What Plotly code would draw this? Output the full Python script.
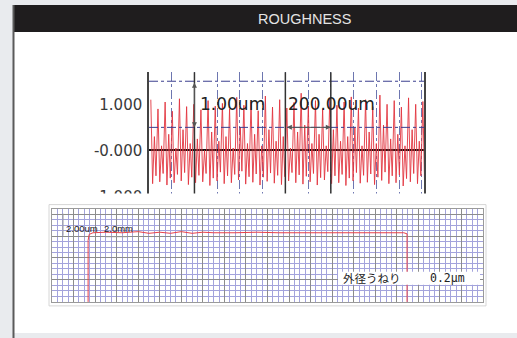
import plotly.graph_objects as go

W, H_REF = 517, 338          # reference picture size (layout positions read from it)
FIG_H = 346                  # canvas height that ends up photographed as 338 rows

# ---------------- data ----------------
# roughness profile (um) read per cycle, x in um
rough_period_um = 31.5
rough_start_um = 8.0
rough_peaks = [1.10, 0.90, 1.05, 0.85, 1.12, 0.95, 1.00, 0.88, 1.08, 0.96,
               1.02, 0.90, 1.15, 0.98, 1.05, 0.86, 1.18, 0.94, 1.10, 0.92,
               1.04, 1.24, 0.96, 1.08, 0.90, 1.12, 0.98, 1.05, 1.16, 0.92,
               1.10, 0.95, 1.20, 1.00, 1.08, 0.94, 1.14, 1.00, 1.06]
rough_troughs = [-0.72, -0.68, -0.75, -0.70, -0.66, -0.74, -0.70, -0.68, -0.76, -0.66,
                 -0.72, -0.70, -0.64, -0.73, -0.69, -0.75, -0.67, -0.71, -0.74, -0.66,
                 -0.70, -0.73, -0.68, -0.75, -0.64, -0.72, -0.70, -0.76, -0.66, -0.71,
                 -0.69, -0.74, -0.65, -0.72, -0.70, -0.77, -0.68, -0.72, -0.80]
rough_mids = [0.30, 0.10, 0.35, 0.05, 0.45, 0.15, 0.25, 0.00, 0.40, 0.20,
              0.30, 0.05, 0.50, 0.15, 0.35, 0.10, 0.45, 0.20, 0.30, 0.05,
              0.40, 0.55, 0.15, 0.35, 0.10, 0.45, 0.20, 0.30, 0.50, 0.10,
              0.40, 0.15, 0.55, 0.25, 0.35, 0.10, 0.45, 0.20, 0.30]
rough_dips = [-0.55, -0.50, -0.60, -0.52, -0.48, -0.58, -0.54, -0.50, -0.60, -0.47,
              -0.55, -0.52, -0.45, -0.57, -0.51, -0.58, -0.49, -0.54, -0.57, -0.48,
              -0.53, -0.56, -0.50, -0.59, -0.46, -0.55, -0.52, -0.60, -0.48, -0.54,
              -0.51, -0.58, -0.47, -0.55, -0.53, -0.61, -0.50, -0.55, -0.62]

rough_ytick_vals = [1, 0, -1]
rough_ytick_text = ["1.000", "-0.000", "-1.000"]
cursor_x_um = [200, 600, 800]
hline_vals = [0.5, 1.5]

# waviness trace (grid units)
wav_x = [6.7, 6.7, 6.9, 7.6, 10, 13, 16, 18, 20, 22, 24, 26, 28, 30, 34, 38, 42,
         46, 50, 54, 58, 62, 65.3, 65.9, 65.9]
wav_y = [0, 11.2, 12.3, 12.6, 12.7, 12.6, 12.8, 12.5, 12.7, 12.5, 12.8, 12.5, 12.7,
         12.6, 12.6, 12.7, 12.6, 12.6, 12.7, 12.6, 12.6, 12.7, 12.6, 12.4, 0]

title_text = "ROUGHNESS"
scale_v_text = "1.00um"
scale_h_text = "200.00um"
wav_scale_v_text = "2.00um"
wav_scale_h_text = "2.0mm"
wav_label = "外径うねり"
wav_value = "0.2μm"

# ---------------- helpers ----------------
def px(x):
    return x / W

def py(y):
    return 1 - y / H_REF

# build roughness polyline from per-cycle readings
rx, ry = [], []
for i, (pk, tr, md, dp) in enumerate(zip(rough_peaks, rough_troughs, rough_mids, rough_dips)):
    b = rough_start_um + i * rough_period_um
    rx += [b, b + 0.25 * rough_period_um, b + 0.5 * rough_period_um, b + 0.72 * rough_period_um]
    ry += [pk, tr, md, dp]

fig = go.Figure()
fig.add_trace(go.Scatter(x=rx, y=ry, mode="lines",
                         line=dict(color="#e23540", width=0.9), xaxis="x", yaxis="y",
                         hoverinfo="skip"))
fig.add_trace(go.Scatter(x=wav_x, y=wav_y, mode="lines",
                         line=dict(color="#e8404a", width=1), xaxis="x2", yaxis="y2",
                         hoverinfo="skip"))

shapes = []
# background pieces
shapes.append(dict(type="rect", xref="paper", yref="paper", x0=px(14), x1=1, y0=py(332), y1=py(32),
                   fillcolor="white", line_width=0, layer="below"))
shapes.append(dict(type="rect", xref="paper", yref="paper", x0=px(14), x1=1, y0=py(32), y1=py(5),
                   fillcolor="#1f1d1e", line_width=0, layer="below"))
shapes.append(dict(type="line", xref="paper", yref="paper", x0=px(13.5), x1=px(13.5), y0=0, y1=py(5),
                   line=dict(color="#5a5a5a", width=2), layer="below"))
# bottom panel frame
shapes.append(dict(type="rect", xref="paper", yref="paper", x0=px(49), x1=px(486), y0=py(305), y1=py(204),
                   fillcolor="white", line=dict(color="#d6d6d6", width=1), layer="below"))
# horizontal dash-dot guide lines in roughness chart
for v in hline_vals:
    shapes.append(dict(type="line", xref="x domain", yref="y", x0=0, x1=1, y0=v, y1=v,
                       line=dict(color="#3b3f8f", width=1, dash="dashdot"), layer="above"))
# cursor lines
for c in cursor_x_um:
    shapes.append(dict(type="line", xref="x", yref="y domain", x0=c, x1=c, y0=0, y1=1,
                       line=dict(color="#333333", width=1.5), layer="above"))
# white cover clipping the bottom of the roughness chart
shapes.append(dict(type="rect", xref="paper", yref="paper", x0=px(80), x1=px(445), y0=py(203.5), y1=py(193),
                   fillcolor="white", line_width=0, layer="above"))
# label box in waviness chart
shapes.append(dict(type="rect", xref="paper", yref="paper", x0=px(338), x1=px(480), y0=py(284), y1=py(271),
                   fillcolor="white", line_width=0, layer="above"))
# small scale marks in waviness chart
shapes.append(dict(type="line", xref="paper", yref="paper", x0=px(63), x1=px(63), y0=py(235), y1=py(213),
                   line=dict(color="#999999", width=1), layer="above"))
shapes.append(dict(type="line", xref="paper", yref="paper", x0=px(105), x1=px(128), y0=py(236), y1=py(236),
                   line=dict(color="#999999", width=1), layer="above"))

annotations = [
    dict(text=title_text, x=px(304), y=py(19), xref="paper", yref="paper", showarrow=False,
         xanchor="center", yanchor="middle",
         font=dict(family="Liberation Sans, Arial", size=14.5, color="#e4e4e4")),
    dict(text=scale_v_text, x=369, y=1.0, xref="x", yref="y", showarrow=False,
         xanchor="center", yanchor="middle",
         font=dict(family="DejaVu Sans", size=17, color="#222222")),
    dict(text=scale_h_text, x=804, y=1.0, xref="x", yref="y", showarrow=False,
         xanchor="center", yanchor="middle",
         font=dict(family="DejaVu Sans", size=17, color="#222222")),
    # double-headed arrows
    dict(text="", x=200, y=0.5, ax=200, ay=1.5, xref="x", yref="y", axref="x", ayref="y",
         showarrow=True, arrowhead=2, arrowsize=1, arrowwidth=1, arrowcolor="#555555",
         arrowside="end+start"),
    dict(text="", x=800, y=0.5, ax=600, ay=0.5, xref="x", yref="y", axref="x", ayref="y",
         showarrow=True, arrowhead=2, arrowsize=1, arrowwidth=1, arrowcolor="#555555",
         arrowside="end+start"),
    dict(text=wav_scale_v_text, x=px(64), y=py(227.5), xref="paper", yref="paper",
         xanchor="left", yanchor="middle",
         showarrow=False, font=dict(family="Liberation Sans, Arial", size=9.5, color="#222222")),
    dict(text=wav_scale_h_text, x=px(102), y=py(227.5), xref="paper", yref="paper",
         xanchor="left", yanchor="middle",
         showarrow=False, font=dict(family="Liberation Sans, Arial", size=9.5, color="#222222")),
    dict(text=wav_label, x=px(341), y=py(277.5), xref="paper", yref="paper",
         xanchor="left", yanchor="middle",
         showarrow=False, font=dict(family="Noto Sans CJK JP", size=11.5, color="#222222")),
    dict(text=wav_value, x=px(428), y=py(277.5), xref="paper", yref="paper",
         xanchor="left", yanchor="middle",
         showarrow=False, font=dict(family="DejaVu Sans Mono", size=11.5, color="#222222")),
]

fig.update_layout(
    width=W, height=FIG_H, autosize=False,
    margin=dict(l=0, r=0, t=0, b=0),
    paper_bgcolor="#e9ebee", plot_bgcolor="white",
    showlegend=False,
    shapes=shapes, annotations=annotations,
    xaxis=dict(domain=[px(149), px(424)], range=[0, 1210], dtick=100, tick0=0,
               showgrid=True, gridcolor="#6d76b0", gridwidth=1, griddash="dashdot",
               showticklabels=False, ticks="", zeroline=False,
               showline=False, fixedrange=True),
    yaxis=dict(domain=[py(198), py(72)], range=[(150 - 198) / 46, (150 - 72) / 46],
               tickvals=rough_ytick_vals, ticktext=rough_ytick_text,
               tickfont=dict(family="DejaVu Sans", size=15, color="#3a3a3a"),
               showgrid=False, zeroline=True, zerolinecolor="#111111", zerolinewidth=1.5,
               showline=True, linecolor="#444444", linewidth=1.5, mirror=True,
               ticks="", ticklabelstandoff=2, fixedrange=True),
    xaxis2=dict(domain=[px(52), px(483)], range=[0, 80], anchor="y2",
                dtick=4, tick0=0, showgrid=True, gridcolor="#8c8c8c", gridwidth=1,
                minor=dict(dtick=1, showgrid=True, gridcolor="#a3a3dc", gridwidth=1),
                showticklabels=False, ticks="", zeroline=False,
                showline=True, linecolor="#9a9a9a", mirror=True, fixedrange=True),
    yaxis2=dict(domain=[py(301), py(208)], range=[0, 17], anchor="x2",
                dtick=4, tick0=0, showgrid=True, gridcolor="#8c8c8c", gridwidth=1,
                minor=dict(dtick=1, showgrid=True, gridcolor="#a3a3dc", gridwidth=1),
                showticklabels=False, ticks="", zeroline=False,
                showline=True, linecolor="#9a9a9a", mirror=True, fixedrange=True),
)

post = (
    "var s=document.createElement('style');"
    "s.textContent='html,body{margin:0;padding:0;overflow:hidden;background:#e9ebee;}"
    ".plotly-graph-div{position:absolute!important;left:0;top:0;}';"
    "document.head.appendChild(s);"
)
fig.write_html("out.html", config={"displayModeBar": False}, post_script=post)
